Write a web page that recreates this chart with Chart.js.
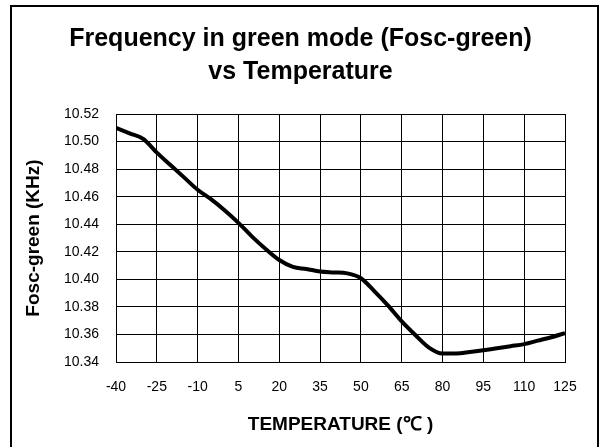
<!DOCTYPE html>
<html lang="en">
<head>
    <meta charset="UTF-8">
    <title>Frequency in green mode (Fosc-green) vs Temperature</title>
    <script src="https://cdn.jsdelivr.net/npm/chart.js"></script>
    <style>
        html, body {
            margin: 0;
            padding: 0;
            background: #fff;
            overflow: hidden;
        }
        #wrap {
            position: relative;
            width: 601px;
            height: 447px;
        }
        /* outer frame of the picture */
        .frame {
            position: absolute;
            left: 10px;
            top: 5px;
            width: 585px;
            height: 470px;
            border: 2px solid #000;
            pointer-events: none;
        }
    </style>
</head>
<body>
    <div id="wrap">
        <canvas id="foscChart" width="601" height="447"></canvas>
        <div class="frame"></div>
    </div>

    <script>
        // temperature (°C) and Fosc-green (KHz)
        const temps = [-40, -35, -30, -25, -20, -15, -10, -5, 0, 5, 10, 15, 20, 25, 30, 35, 40,
                       45, 50, 55, 60, 65, 70, 75, 80, 85, 90, 95, 100, 105, 110, 115, 120, 125];
        const fosc = [10.510, 10.506, 10.502, 10.492, 10.483, 10.474, 10.465, 10.458, 10.450, 10.441,
                      10.431, 10.422, 10.414, 10.409, 10.4075, 10.4057, 10.405, 10.4043, 10.4008, 10.3913,
                      10.3809, 10.3695, 10.3596, 10.3505, 10.3462, 10.3462, 10.3472, 10.3485, 10.350, 10.3515,
                      10.353, 10.3555, 10.358, 10.361];
        const xTicks = [-40, -25, -10, 5, 20, 35, 50, 65, 80, 95, 110, 125];
        const yTicks = [10.34, 10.36, 10.38, 10.40, 10.42, 10.44, 10.46, 10.48, 10.50, 10.52];

        const FONT = "Arial, 'Liberation Sans', sans-serif";

        const points = temps.map((t, i) => ({ x: t, y: fosc[i] }));

        const config = {
            type: 'line',
            data: {
                datasets: [{
                    data: points,
                    borderColor: '#000',
                    borderWidth: 4,
                    pointRadius: 0,
                    fill: false,
                    cubicInterpolationMode: 'monotone'
                }]
            },
            options: {
                responsive: false,
                animation: false,
                layout: { padding: 0 },
                plugins: {
                    legend: { display: false },
                    tooltip: { enabled: false },
                    title: {
                        display: true,
                        text: ['Frequency in green mode (Fosc-green)', 'vs Temperature'],
                        color: '#000',
                        font: { family: FONT, size: 25, weight: 'bold', lineHeight: '33px' },
                        padding: { top: 22.5, bottom: 25.5 }
                    }
                },
                scales: {
                    x: {
                        type: 'linear',
                        min: xTicks[0],
                        max: xTicks[xTicks.length - 1],
                        afterBuildTicks: (scale) => {
                            scale.ticks = xTicks.map(v => ({ value: v }));
                        },
                        afterFit: (scale) => { scale.height = 85; },
                        ticks: {
                            color: '#000',
                            font: { family: FONT, size: 14 },
                            padding: 17,
                            maxRotation: 0,
                            autoSkip: false
                        },
                        grid: { color: '#000', lineWidth: 1, drawTicks: false },
                        border: { color: '#000', width: 1 },
                        title: {
                            display: true,
                            text: 'TEMPERATURE (℃ )',
                            color: '#000',
                            font: { family: FONT, size: 19, weight: 'bold' },
                            padding: { top: 0, bottom: 11 }
                        }
                    },
                    y: {
                        min: yTicks[0],
                        max: yTicks[yTicks.length - 1],
                        afterBuildTicks: (scale) => {
                            scale.ticks = yTicks.map(v => ({ value: v }));
                        },
                        afterFit: (scale) => { scale.width = 116; },
                        ticks: {
                            color: '#000',
                            font: { family: FONT, size: 14 },
                            padding: 17,
                            callback: (v) => v.toFixed(2)
                        },
                        grid: { color: '#000', lineWidth: 1, drawTicks: false },
                        border: { color: '#000', width: 1 },
                        title: {
                            display: true,
                            text: 'Fosc-green (KHz)',
                            color: '#000',
                            font: { family: FONT, size: 19, weight: 'bold' },
                            padding: { top: 22, bottom: 0 }
                        }
                    },
                    // empty right-hand axis, only keeps the plot off the frame
                    yRight: {
                        position: 'right',
                        afterFit: (scale) => { scale.width = 36; },
                        ticks: { display: false },
                        grid: { display: false },
                        border: { display: false }
                    }
                }
            }
        };

        const foscChart = new Chart(document.getElementById('foscChart'), config);
    </script>
</body>
</html>
